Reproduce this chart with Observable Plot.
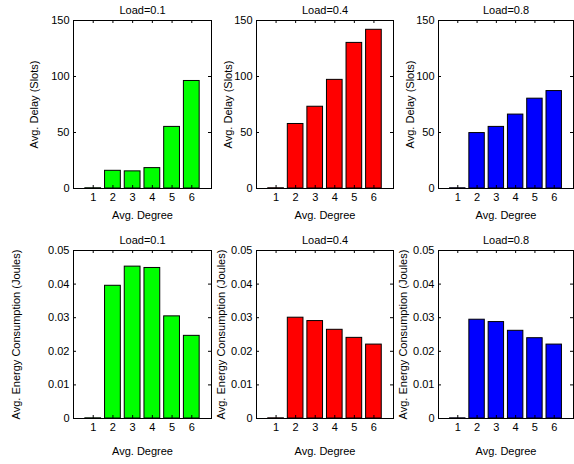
<!DOCTYPE html>
<html>
<head>
<meta charset="utf-8">
<script src="https://cdn.jsdelivr.net/npm/d3@7"></script>
<script src="https://cdn.jsdelivr.net/npm/@observablehq/plot@0.6"></script>
<style>
  html, body { margin: 0; padding: 0; background: #ffffff; }
  #chart { position: relative; width: 574px; height: 464px; background: #ffffff; }
  #chart svg { position: absolute; left: 0; top: 0; }
</style>
</head>
<body>
<div id="chart"></div>
<script>
// ---- data ----
const degrees = [1, 2, 3, 4, 5, 6];
const loadTitles = ["Load=0.1", "Load=0.4", "Load=0.8"];
const barColors = ["#00ff00", "#ff0000", "#0000ff"];

const delayLoad01 = [0.2, 15.8, 15.3, 18.2, 55, 96];
const delayLoad04 = [0.2, 57.6, 73, 97, 130, 141.7];
const delayLoad08 = [0.2, 49.5, 55, 66, 80.2, 87];

const energyLoad01 = [0.00005, 0.0395, 0.0452, 0.0448, 0.0304, 0.0246];
const energyLoad04 = [0.00005, 0.0300, 0.0290, 0.0264, 0.0240, 0.0220];
const energyLoad08 = [0.00005, 0.0294, 0.0287, 0.0261, 0.0239, 0.0220];

const delayTicks = [0, 50, 100, 150];
const energyTicks = [0, 0.01, 0.02, 0.03, 0.04, 0.05];

const xLabel = "Avg. Degree";
const delayLabel = "Avg. Delay (Slots)";
const energyLabel = "Avg. Energy Consumption (Joules)";

// ---- layout ----
const W = 574, H = 464;
const FONT = "'Liberation Sans', Arial, Helvetica, sans-serif";
const cols = [{l: 73, r: 211}, {l: 256, r: 393}, {l: 438, r: 573}];
const rows = [{t: 20, b: 188, xLabDy: 27}, {t: 250, b: 418, xLabDy: 33}];
const yLabOffsets = [[39, 28.5, 28.5], [57.5, 35, 35.5]];

const panels = [
  {row: 0, col: 0, values: delayLoad01, ticks: delayTicks, domain: [0, 150], ylabel: delayLabel},
  {row: 0, col: 1, values: delayLoad04, ticks: delayTicks, domain: [0, 150], ylabel: delayLabel},
  {row: 0, col: 2, values: delayLoad08, ticks: delayTicks, domain: [0, 150], ylabel: delayLabel},
  {row: 1, col: 0, values: energyLoad01, ticks: energyTicks, domain: [0, 0.05], ylabel: energyLabel},
  {row: 1, col: 1, values: energyLoad04, ticks: energyTicks, domain: [0, 0.05], ylabel: energyLabel},
  {row: 1, col: 2, values: energyLoad08, ticks: energyTicks, domain: [0, 0.05], ylabel: energyLabel}
];

const container = document.getElementById("chart");
const TICK = 3;

for (const p of panels) {
  const c = cols[p.col], r = rows[p.row];
  const frameW = c.r - c.l, frameH = r.b - r.t;
  const data = degrees.map((d, i) => ({deg: d, v: p.values[i]}));
  const svg = Plot.plot({
    width: W,
    height: H,
    marginLeft: c.l,
    marginRight: W - c.r,
    marginTop: r.t,
    marginBottom: H - r.b,
    style: {background: "none", fontFamily: FONT, fontSize: "11px", color: "#000", overflow: "visible", pointerEvents: "none"},
    x: {type: "band", domain: degrees, paddingInner: 0.2, paddingOuter: 0.6, align: 0.5, round: false, label: null},
    y: {domain: p.domain, label: null},
    marks: [
      Plot.barY(data, {x: "deg", y: "v", fill: barColors[p.col], stroke: "#000", strokeWidth: 1}),
      Plot.frame({stroke: "#000", strokeWidth: 1}),
      // inward ticks (MATLAB style)
      Plot.tickX(degrees, {x: d => d, insetTop: frameH - TICK, stroke: "#000"}),
      Plot.tickX(degrees, {x: d => d, insetBottom: frameH - TICK, stroke: "#000"}),
      Plot.tickY(p.ticks, {y: d => d, insetRight: frameW - TICK, stroke: "#000"}),
      Plot.tickY(p.ticks, {y: d => d, insetLeft: frameW - TICK, stroke: "#000"}),
      Plot.axisX({tickSize: 0, tickPadding: 5, fontSize: 11, label: null}),
      Plot.axisY({ticks: p.ticks, tickFormat: d => String(d), tickSize: 0, tickPadding: 4, fontSize: 11, label: null}),
      Plot.text([loadTitles[p.col]], {frameAnchor: "top", dy: -10, lineAnchor: "middle", textAnchor: "middle", fontSize: 11, fill: "#000"}),
      Plot.text([xLabel], {frameAnchor: "bottom", dy: r.xLabDy, lineAnchor: "middle", textAnchor: "middle", fontSize: 11, fill: "#000"}),
      Plot.text([p.ylabel], {frameAnchor: "left", dx: -yLabOffsets[p.row][p.col], rotate: -90, lineAnchor: "middle", textAnchor: "middle", fontSize: 11, fill: "#000"})
    ]
  });
  container.appendChild(svg);
}
</script>
</body>
</html>
